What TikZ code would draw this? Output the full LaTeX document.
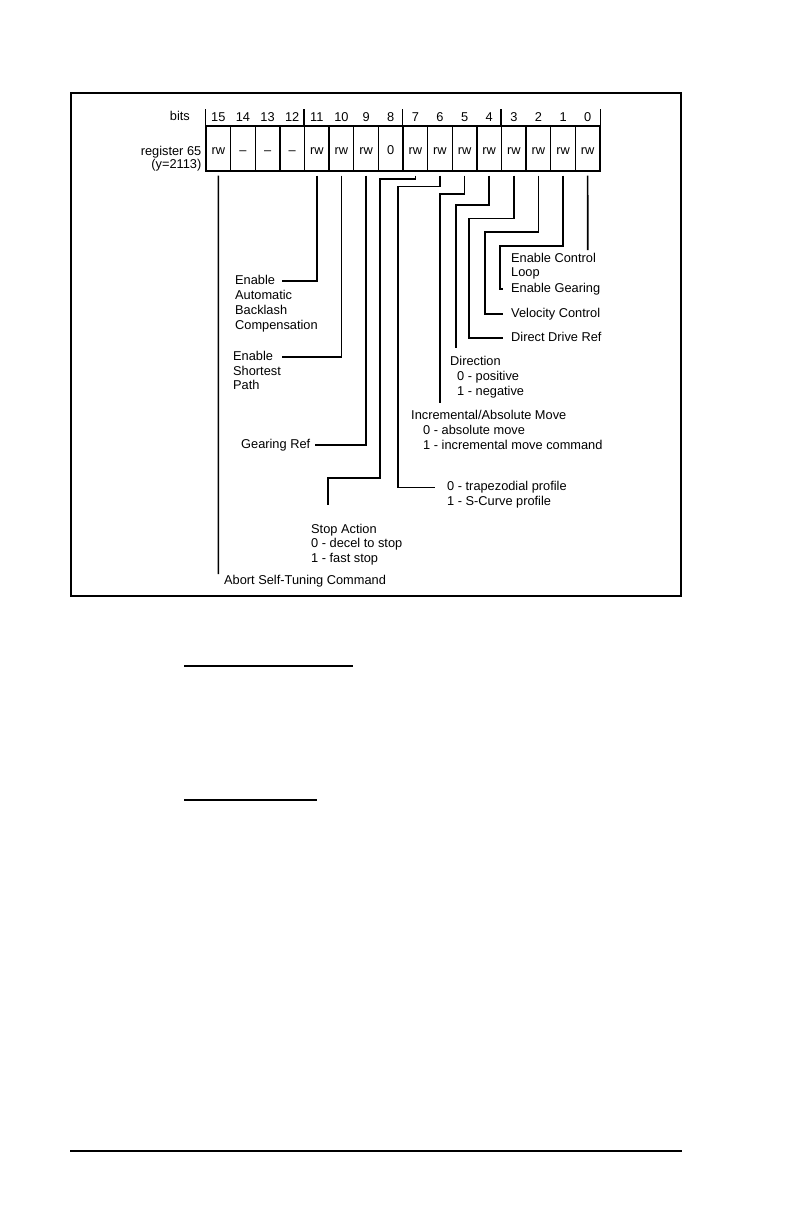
\documentclass[tikz,border=0pt]{standalone}
\usepackage{fontspec}
\setmainfont{Liberation Sans}
\begin{document}
\begin{tikzpicture}[x=1pt,y=-1pt,
  lbl/.style={inner sep=0pt, anchor=west, text height=9.2pt, text depth=2.6pt, font=\fontsize{12.8}{15}\selectfont},
  bitnum/.style={inner sep=0pt, anchor=center, text height=9.2pt, text depth=0pt, font=\fontsize{12.8}{15}\selectfont},
  cell/.style={draw, line width=1.3pt, minimum width=24.625pt, minimum height=45pt, inner sep=0pt, text height=13pt, text depth=0pt, font=\fontsize{12.8}{15}\selectfont},
  leader/.style={line width=1.6pt},
  groupbar/.style={line width=1.3pt},
  frame/.style={line width=2.3pt},
  rule/.style={line width=2pt}]
\useasboundingbox (0,0) rectangle (793,1225);
% frame
\draw[frame] (71,93) rectangle (681,596);
% register cells and bit numbers
\foreach \b/\t in {15/rw,14/\textendash,13/\textendash,12/\textendash,11/rw,10/rw,9/rw,8/0,7/rw,6/rw,5/rw,4/rw,3/rw,2/rw,1/rw,0/rw}{
  \pgfmathsetmacro\cx{218.3125+24.625*(15-\b)}
  \node[cell] (c\b) at (\cx,148.5) {\t};
  \node[bitnum] (n\b) at (\cx,117) {\b};
  \coordinate (s\b) at ([yshift=-4pt]c\b.south);
}
% group bars
\draw[groupbar] (c15.north west) -- ++(0,-16);
\draw[groupbar] (c11.north west) -- ++(0,-16);
\draw[groupbar] (c7.north west) -- ++(0,-16);
\draw[groupbar] (c3.north west) -- ++(0,-16);
\draw[groupbar] (c0.north east) -- ++(0,-16);
% header labels
\node[lbl, anchor=east] (bits) at (190,117) {bits};
\node[lbl, anchor=east] (reg) at (201.5,152) {register 65};
\node[lbl, anchor=east] (ycode) at (201.5,165) {(y=2113)};
% labels
\node[lbl] (abort) at (224,581) {Abort Self-Tuning Command};
\node[lbl] (en11) at (235,281) {Enable};
\node[lbl] (auto) at (235,296) {Automatic};
\node[lbl] (back) at (235,311) {Backlash};
\node[lbl] (comp) at (235,326) {Compensation};
\node[lbl] (en10) at (233,357) {Enable};
\node[lbl] (short) at (233,372) {Shortest};
\node[lbl] (path) at (233,386) {Path};
\node[lbl] (gref) at (241,445) {Gearing Ref};
\node[lbl] (stop) at (311,530) {Stop Action};
\node[lbl] (stop0) at (311,544.5) {0 - decel to stop};
\node[lbl] (stop1) at (311,559) {1 - fast stop};
\node[lbl] (trap) at (447,487.5) {0 - trapezodial profile};
\node[lbl] (scurve) at (447,502.5) {1 - S-Curve profile};
\node[lbl] (inc) at (411,416) {Incremental/Absolute Move};
\node[lbl] (inc0) at (423,431) {0 - absolute move};
\node[lbl] (inc1) at (423,446) {1 - incremental move command};
\node[lbl] (dir) at (450,362) {Direction};
\node[lbl] (dir0) at (457,377) {0 - positive};
\node[lbl] (dir1) at (457,392) {1 - negative};
\node[lbl] (ddr) at (511,338) {Direct Drive Ref};
\node[lbl] (vel) at (511,314) {Velocity Control};
\node[lbl] (gear) at (511,289) {Enable Gearing};
\node[lbl] (ctl) at (511,259) {Enable Control};
\node[lbl] (loop) at (511,273) {Loop};
% free ends
\coordinate (e15) at (218.3,574);
\coordinate (e7) at (328,505);
\coordinate (e5) at (440,403);
\coordinate (e4) at (456,348);
\coordinate (e0) at (587.7,250);
% leaders
\draw[leader] (s15) -- (e15);
\draw[leader] (s11) |- ([xshift=7pt]en11.east);
\draw[leader] (s10) |- ([xshift=9pt]en10.east);
\draw[leader] (s9) |- ([xshift=5pt]gref.east);
\draw[leader] (s7) |- (380,179) |- (328,478) -- (e7);
\draw[leader] (s6) |- (398,186.7) |- ([xshift=-12pt]trap.west);
\draw[leader] (s5) |- (440,194) -- (e5);
\draw[leader] (s4) |- (456,205) -- (e4);
\draw[leader] (s3) |- (469,218.3) |- ([xshift=-8pt]ddr.west);
\draw[leader] (s2) |- (485,231.7) |- ([xshift=-8pt]vel.west);
\draw[leader] (s1) |- (500,246) |- ([xshift=-8pt]gear.west);
\draw[leader] (s0) -- (e0);
% rules below the figure
\draw[rule] (184,665.7) -- (353,665.7);
\draw[rule] (184,800) -- (317,800);
\draw[line width=1.3pt] (70,1151) -- (682,1151);
\end{tikzpicture}
\end{document}
